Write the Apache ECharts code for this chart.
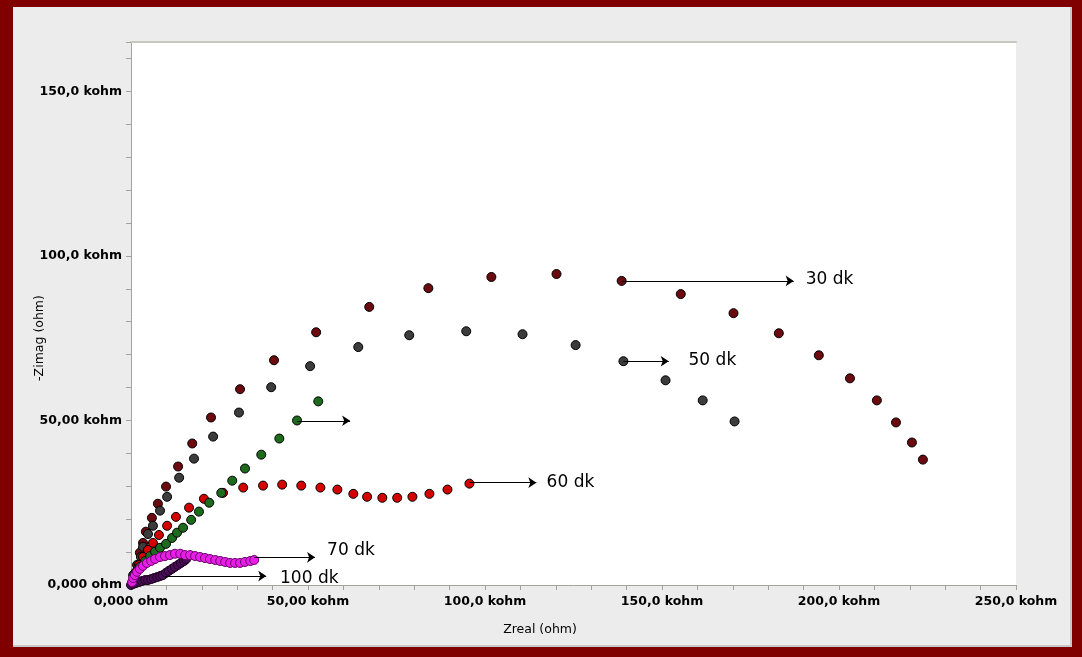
<!DOCTYPE html>
<html>
<head>
<meta charset="utf-8">
<title>Nyquist</title>
<script src="https://cdn.jsdelivr.net/npm/echarts@6/dist/echarts.min.js"></script>
<style>
  html, body { margin: 0; padding: 0; width: 1082px; height: 657px; background: #800000; overflow: hidden; }
  #chart { position: absolute; left: 13px; top: 7px; width: 1059px; height: 640px;
           background: #ececec; box-shadow: inset -2px -2px 0 #c9c9c9; }
</style>
</head>
<body>
<div id="chart"></div>
<script>
// Impedance values in kohm: [Zreal, -Zimag]
const s30 = [[0.6,3.0],[1.7,6.1],[2.5,9.8],[3.4,12.8],[4.2,16.2],[5.9,20.4],[7.6,24.7],[9.9,29.9],[13.3,36.0],[17.3,43.0],[22.6,50.9],[30.8,59.5],[40.4,68.3],[52.3,76.8],[67.3,84.5],[84.0,90.2],[101.8,93.6],[120.2,94.5],[138.6,92.4],[155.3,88.4],[170.2,82.6],[183.0,76.5],[194.3,69.8],[203.1,62.8],[210.7,56.1],[216.1,49.4],[220.6,43.3],[223.7,38.1]];
const s50 = [[1.4,4.0],[2.8,8.5],[3.4,11.6],[4.8,15.5],[6.2,18.0],[8.2,22.6],[10.2,26.8],[13.6,32.6],[17.8,38.4],[23.2,45.1],[30.5,52.4],[39.6,60.1],[50.6,66.5],[64.2,72.3],[78.6,75.9],[94.7,77.1],[110.6,76.2],[125.6,72.9],[139.1,68.0],[151.0,62.2],[161.5,56.1],[170.5,49.7]];
const s60 = [[1.4,3.7],[2.3,6.1],[3.4,8.5],[4.8,10.7],[6.2,12.8],[7.9,15.2],[10.2,18.0],[12.7,20.7],[16.4,23.5],[20.6,26.2],[26.0,28.0],[31.7,29.6],[37.3,30.2],[42.7,30.5],[48.1,30.2],[53.5,29.6],[58.3,29.0],[62.8,27.7],[66.7,26.8],[71.0,26.5],[75.2,26.5],[79.5,26.8],[84.3,27.7],[89.4,29.0],[95.6,30.8]];
const sGreen = [[1.1,3.4],[2.5,5.5],[4.0,7.3],[5.4,8.8],[6.8,10.1],[8.2,11.3],[9.9,12.5],[11.6,14.3],[13.0,15.9],[14.7,17.4],[17.0,19.8],[19.2,22.3],[22.1,25.0],[25.5,28.0],[28.6,31.7],[32.2,35.4],[36.8,39.6],[41.9,44.5],[46.9,50.0],[52.9,55.8]];
const s70 = [[0.3,0.9],[0.6,2.1],[1.1,3.0],[1.7,4.0],[2.5,4.9],[3.4,5.8],[4.5,6.7],[5.7,7.3],[6.8,7.9],[8.2,8.5],[9.6,8.8],[11.0,9.1],[12.4,9.5],[13.9,9.5],[15.3,9.1],[16.7,9.1],[18.1,8.8],[19.5,8.5],[20.9,8.2],[22.3,7.9],[23.8,7.6],[25.2,7.3],[26.6,7.0],[28.0,6.7],[29.4,6.7],[30.8,6.7],[32.2,7.0],[33.7,7.3],[34.8,7.6]];
const s100 = [[0.0,0.0],[0.6,0.3],[1.4,0.6],[2.3,0.9],[3.1,1.2],[4.0,1.5],[4.8,1.5],[5.7,1.8],[6.5,2.1],[7.4,2.4],[8.2,2.7],[9.0,3.0],[9.9,3.7],[10.7,4.3],[11.6,4.9],[12.4,5.5],[13.3,6.1],[14.1,6.7],[15.0,7.3],[15.6,7.9]];

// Axis ticks (kohm) and their printed labels
const xTickValues = [0, 50, 100, 150, 200, 250];
const xTickLabels = ['0,000 ohm', '50,00 kohm', '100,0 kohm', '150,0 kohm', '200,0 kohm', '250,0 kohm'];
const yTickValues = [0, 50, 100, 150];
const yTickLabels = ['0,000 ohm', '50,00 kohm', '100,0 kohm', '150,0 kohm'];

// Annotation arrows (kohm) and their captions
const arrowFrom = [[138.6,92.4],[139.1,68.0],[46.9,49.9],[95.6,31.1],[34.8,8.4],[9.6,2.7]];
const arrowTo   = [[187.2,92.4],[151.9,68.0],[61.9,49.9],[114.5,31.1],[52.0,8.4],[38.2,2.7]];
const captionText = ['30 dk', '50 dk', '60 dk', '70 dk', '100 dk'];
const captionAt   = [[190.6,92.7],[157.5,68.3],[117.4,31.1],[55.4,10.4],[42.1,2.1]];

const chart = echarts.init(document.getElementById('chart'), null, { renderer: 'canvas' });

const axisGray = '#a4a49c';
const tickFont = { fontFamily: 'DejaVu Sans', fontWeight: 'bold', fontSize: 12.5, color: '#000' };

function labelFor(values, labels) {
  return v => {
    const i = values.indexOf(Math.round(v * 1000) / 1000);
    return i >= 0 ? labels[i] : '';
  };
}

function dots(name, data, fill, border) {
  return {
    name, type: 'scatter', data,
    symbol: 'circle', symbolSize: 9,
    itemStyle: { color: fill, borderColor: border || '#000', borderWidth: 1, opacity: 1 },
    emphasis: { disabled: true }
  };
}

chart.setOption({
  animation: false,
  grid: { left: 118, top: 35, width: 885, height: 543, show: true,
          backgroundColor: '#ffffff', borderWidth: 0 },
  xAxis: [{
    type: 'value', min: 0, max: 250, interval: 50,
    axisLine: { show: true, onZero: false, lineStyle: { color: axisGray, width: 1 } },
    axisTick: { show: true, length: 5, lineStyle: { color: axisGray } },
    minorTick: { show: true, splitNumber: 5, length: 5, lineStyle: { color: axisGray } },
    splitLine: { show: false },
    axisLabel: Object.assign({ margin: 10, formatter: labelFor(xTickValues, xTickLabels) }, tickFont)
  }, {
    // top edge of the plotting frame
    type: 'value', min: 0, max: 250, position: 'top',
    axisLine: { show: true, onZero: false, lineStyle: { color: '#c4c8be', width: 2 } },
    axisTick: { show: false }, axisLabel: { show: false }, splitLine: { show: false }
  }],
  yAxis: {
    type: 'value', min: 0, max: 165, interval: 50,
    axisLine: { show: true, onZero: false, lineStyle: { color: axisGray, width: 1 } },
    axisTick: { show: true, length: 5, lineStyle: { color: axisGray } },
    minorTick: { show: true, splitNumber: 5, length: 5, lineStyle: { color: axisGray } },
    splitLine: { show: false },
    axisLabel: Object.assign({ margin: 9, formatter: labelFor(yTickValues, yTickLabels) }, tickFont)
  },
  graphic: [
    { type: 'text', x: 527, y: 623,
      style: { text: 'Zreal (ohm)', fontFamily: 'DejaVu Sans', fontSize: 12.5, fill: '#000',
               align: 'center', verticalAlign: 'middle' } },
    { type: 'text', x: 27, y: 331, rotation: Math.PI / 2,
      style: { text: '-Zimag (ohm)', fontFamily: 'DejaVu Sans', fontSize: 12.5, fill: '#000',
               align: 'center', verticalAlign: 'middle' } }
  ],
  series: [
    dots('30 dk', s30, '#6b0a0f'),
    dots('50 dk', s50, '#3c3c3c'),
    dots('60 dk', s60, '#d40000'),
    dots('green', sGreen, '#1d6b1d'),
    dots('100 dk', s100, '#4a0c58', '#1a001a'),
    dots('70 dk', s70, '#e61ee6', '#6a006a'),
    {
      name: 'arrows', type: 'lines', coordinateSystem: 'cartesian2d',
      symbol: ['none', 'arrow'], symbolSize: [0, 8],
      lineStyle: { color: '#000', width: 1, opacity: 1, curveness: 0 },
      data: arrowFrom.map((a, i) => ({ coords: [a, arrowTo[i]] })),
      silent: true, z: 5
    },
    {
      name: 'captions', type: 'scatter', symbolSize: 0,
      data: captionAt.map((p, i) => ({ value: p, name: captionText[i] })),
      itemStyle: { opacity: 1 },
      label: { show: true, position: 'right', distance: 0, formatter: '{b}',
               fontFamily: 'DejaVu Sans', fontSize: 17, color: '#000', opacity: 1,
               textBorderWidth: 0, align: 'left', verticalAlign: 'middle' },
      silent: true, z: 6
    }
  ]
});
</script>
</body>
</html>
